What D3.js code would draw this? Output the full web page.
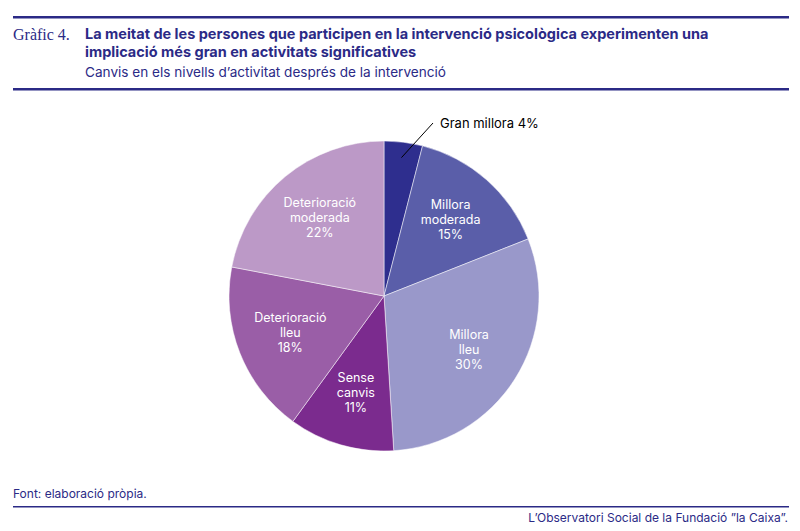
<!DOCTYPE html><html><head><meta charset="utf-8"><script src="https://cdn.jsdelivr.net/npm/d3@7"></script>
<style>body{margin:0;background:#fff}svg{font-family:Inter,"Noto Sans",sans-serif}</style></head><body>
<svg id="c" width="800" height="531"></svg>
<script>
const labels=[["Gran millora 4%"],["Millora","moderada","15%"],["Millora","lleu","30%"],["Sense","canvis","11%"],["Deterioració","lleu","18%"],["Deterioració","moderada","22%"]];
const values=[4,15,30,11,18,22];
const colors=["#2e2e8e","#5a5ea9","#9998ca","#7b2b8e","#9a5ea7","#bc99c7"];
const svg=d3.select("#c"),navy="#2b2a86";
[17,89,507].forEach(y=>svg.append("rect").attr("x",13).attr("y",y-1).attr("width",776).attr("height",y==507?1.5:2.5).attr("fill",navy));
svg.append("text").attr("x",13).attr("y",40).attr("font-family","Liberation Serif,DejaVu Serif,serif").attr("font-size",16).attr("fill",navy).text("Gràfic 4.");
svg.append("text").attr("x",85).attr("y",39).attr("font-size",14.5).attr("font-weight","bold").attr("fill",navy).text("La meitat de les persones que participen en la intervenció psicològica experimenten una");
svg.append("text").attr("x",85).attr("y",57).attr("font-size",14.5).attr("font-weight","bold").attr("fill",navy).text("implicació més gran en activitats significatives");
svg.append("text").attr("x",85).attr("y",77).attr("font-size",13.6).attr("fill",navy).text("Canvis en els nivells d’activitat després de la intervenció");
svg.append("text").attr("x",13).attr("y",498).attr("font-size",12).attr("fill",navy).text("Font: elaboració pròpia.");
svg.append("text").attr("x",788).attr("y",522).attr("text-anchor","end").attr("font-size",12).attr("fill",navy).text("L’Observatori Social de la Fundació ”la Caixa”.");
const cx=384,cy=296,r=155;
const pie=d3.pie().sort(null)(values);
const arc=d3.arc().innerRadius(0).outerRadius(r);
const g=svg.append("g").attr("transform",`translate(${cx},${cy})`);
g.selectAll("path").data(pie).join("path").attr("d",arc).attr("fill",(d,i)=>colors[i]).attr("stroke","#fff").attr("stroke-width",0.5);
const lab=d3.arc().innerRadius(r*0.65).outerRadius(r*0.65);
pie.forEach((d,i)=>{
 if(i==0){
  const p=d3.arc().innerRadius(r*0.9).outerRadius(r*0.9).centroid(d);
  g.append("line").attr("x1",p[0]).attr("y1",p[1]).attr("x2",433-cx).attr("y2",123-cy).attr("stroke","#000");
  g.append("text").attr("x",440-cx).attr("y",128-cy).attr("font-size",13).text(labels[0][0]);return;}
 const c=lab.centroid(d);
 const t=g.append("text").attr("text-anchor","middle").attr("font-size",12.5).attr("fill","#fff");
 labels[i].forEach((s,k)=>t.append("tspan").attr("x",c[0]).attr("y",c[1]+(k-1)*15+4).text(s));
});
</script></body></html>
